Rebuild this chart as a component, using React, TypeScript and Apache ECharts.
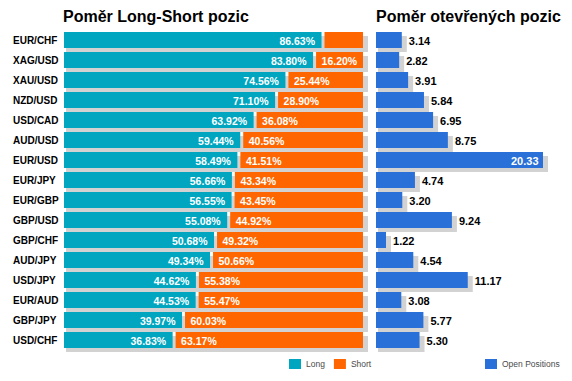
import React, { useEffect, useRef } from "react";
import * as echarts from "echarts";

const pairs = ["EUR/CHF", "XAG/USD", "XAU/USD", "NZD/USD", "USD/CAD", "AUD/USD", "EUR/USD", "EUR/JPY", "EUR/GBP", "GBP/USD", "GBP/CHF", "AUD/JPY", "USD/JPY", "EUR/AUD", "GBP/JPY", "USD/CHF"];
const longValues = [86.63, 83.8, 74.56, 71.1, 63.92, 59.44, 58.49, 56.66, 56.55, 55.08, 50.68, 49.34, 44.62, 44.53, 39.97, 36.83];
const shortValues = [13.37, 16.2, 25.44, 28.9, 36.08, 40.56, 41.51, 43.34, 43.45, 44.92, 49.32, 50.66, 55.38, 55.47, 60.03, 63.17];
const openPositions = [3.14, 2.82, 3.91, 5.84, 6.95, 8.75, 20.33, 4.74, 3.2, 9.24, 1.22, 4.54, 11.17, 3.08, 5.77, 5.3];

const CYAN = "#00A6BF";
const ORANGE = "#FF6600";
const BLUE = "#2970D8";
const SHADOW = "#D2D2D2";
const BAR_H = 16;

export default function App() {
  const ref = useRef<HTMLDivElement>(null);
  useEffect(() => {
    if (!ref.current) return;
    const chart = echarts.init(ref.current, undefined, { renderer: "svg" });
    const lsData = pairs.map((p, i) => [i, longValues[i], shortValues[i]]);
    const opData = pairs.map((p, i) => [i, openPositions[i]]);
    const maxOpen = Math.max(...openPositions);
    const option: any = {
      animation: false,
      title: [
        { text: "Poměr Long-Short pozic", left: 58, top: 3, textStyle: { fontSize: 16, fontWeight: "bold", color: "#000", fontFamily: "Arial, Liberation Sans" } },
        { text: "Poměr otevřených pozic", left: 371, top: 3, textStyle: { fontSize: 16, fontWeight: "bold", color: "#000", fontFamily: "Arial, Liberation Sans" } },
      ],
      legend: [
        {
          data: ["Long", "Short"], left: 289, top: 359, icon: "rect", itemWidth: 12, itemHeight: 10, itemGap: 9, padding: 0,
          textStyle: { fontSize: 8.5, color: "#4a4a4a", fontFamily: "Arial, Liberation Sans" },
        },
        {
          data: ["Open Positions"], left: 485, top: 359, icon: "rect", itemWidth: 12, itemHeight: 10, padding: 0,
          textStyle: { fontSize: 8.5, color: "#4a4a4a", fontFamily: "Arial, Liberation Sans" },
        },
      ],
      grid: [
        { left: 64, top: 30, width: 299, height: 320 },
        { left: 376, top: 30, width: 167, height: 320 },
      ],
      xAxis: [
        { gridIndex: 0, type: "value", min: 0, max: 100, show: false },
        { gridIndex: 1, type: "value", min: 0, max: maxOpen, show: false },
      ],
      yAxis: [
        {
          gridIndex: 0, type: "category", data: pairs, inverse: true,
          axisLine: { show: false }, axisTick: { show: false },
          axisLabel: { align: "left", margin: 51, fontSize: 10, fontWeight: "bold", color: "#000", fontFamily: "Arial, Liberation Sans" },
        },
        { gridIndex: 1, type: "category", data: pairs, inverse: true, show: false },
      ],
      series: [
        {
          name: "Long", type: "custom", xAxisIndex: 0, yAxisIndex: 0, itemStyle: { color: CYAN },
          encode: { x: [1, 2], y: 0 }, data: lsData,
          renderItem: (params: any, api: any) => {
            const cat = api.value(0), lg = api.value(1), sh = api.value(2);
            const p0 = api.coord([0, cat]);
            const p1 = api.coord([lg, cat]);
            const p2 = api.coord([lg + sh, cat]);
            const y = p0[1] - BAR_H / 2;
            return {
              type: "group",
              children: [
                { type: "rect", shape: { x: p0[0] + 2, y: y + 4, width: p2[0] - p0[0] + 3, height: BAR_H }, style: { fill: SHADOW } },
                { type: "rect", shape: { x: p0[0], y, width: p1[0] - p0[0] - 1.5, height: BAR_H }, style: { fill: CYAN } },
                {
                  type: "text",
                  style: { text: lg.toFixed(2) + "%", x: p1[0] - 8, y: p0[1] + 0.5, align: "right", verticalAlign: "middle", fill: "#fff", fontSize: 10.5, fontWeight: "bold", fontFamily: "Arial, Liberation Sans" },
                },
              ],
            };
          },
        },
        {
          name: "Short", type: "custom", xAxisIndex: 0, yAxisIndex: 0, itemStyle: { color: ORANGE },
          encode: { x: [1, 2], y: 0 }, data: lsData,
          renderItem: (params: any, api: any) => {
            const cat = api.value(0), lg = api.value(1), sh = api.value(2);
            const p1 = api.coord([lg, cat]);
            const p2 = api.coord([lg + sh, cat]);
            const y = p1[1] - BAR_H / 2;
            const w = p2[0] - p1[0];
            const children: any[] = [
              { type: "rect", shape: { x: p1[0] + 1.5, y, width: w - 1.5, height: BAR_H }, style: { fill: ORANGE } },
            ];
            if (w >= 44) {
              children.push({
                type: "text",
                style: { text: sh.toFixed(2) + "%", x: p1[0] + 7, y: p1[1] + 0.5, align: "left", verticalAlign: "middle", fill: "#fff", fontSize: 10.5, fontWeight: "bold", fontFamily: "Arial, Liberation Sans" },
              });
            }
            return { type: "group", children };
          },
        },
        {
          name: "Open Positions", type: "custom", xAxisIndex: 1, yAxisIndex: 1, itemStyle: { color: BLUE },
          encode: { x: 1, y: 0 }, data: opData,
          renderItem: (params: any, api: any) => {
            const cat = api.value(0), v = api.value(1);
            const p0 = api.coord([0, cat]);
            const p1 = api.coord([v, cat]);
            const y = p0[1] - BAR_H / 2;
            const right = params.coordSys.x + params.coordSys.width;
            const inside = p1[0] + 7 + 30 > right;
            return {
              type: "group",
              children: [
                { type: "rect", shape: { x: p0[0] + 2, y: y + 4, width: p1[0] - p0[0] + 3, height: BAR_H }, style: { fill: SHADOW } },
                { type: "rect", shape: { x: p0[0], y, width: p1[0] - p0[0], height: BAR_H }, style: { fill: BLUE } },
                {
                  type: "text",
                  style: {
                    text: v.toFixed(2), x: inside ? p1[0] - 4.5 : p1[0] + 7, y: p0[1] + 0.5,
                    align: inside ? "right" : "left", verticalAlign: "middle", fill: inside ? "#fff" : "#000",
                    fontSize: 11, fontWeight: "bold", fontFamily: "Arial, Liberation Sans",
                  },
                },
              ],
            };
          },
        },
      ],
    };
    chart.setOption(option);
    return () => chart.dispose();
  }, []);
  return <div ref={ref} style={{ position: "fixed", left: 0, top: 0, width: 572, height: 381, background: "#fff" }} />;
}
